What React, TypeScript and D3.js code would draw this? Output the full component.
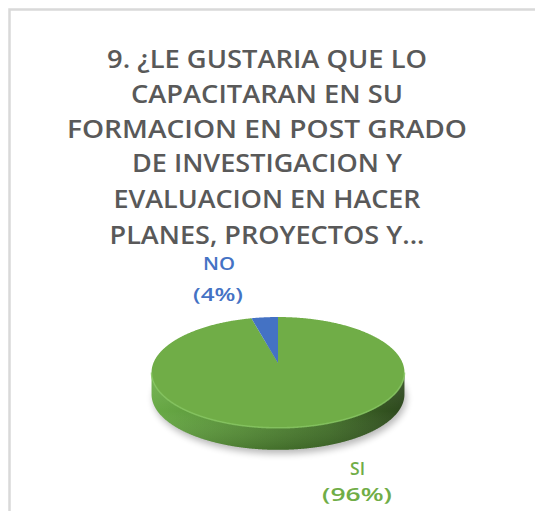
import React from "react";
import * as d3 from "d3";

const titleLines = [
  "9. ¿LE GUSTARIA QUE LO",
  "CAPACITARAN EN SU",
  "FORMACION EN POST GRADO",
  "DE INVESTIGACION Y",
  "EVALUACION EN HACER",
  "PLANES, PROYECTOS Y...",
];
const titleWidths = [320, 272, 400, 270, 307, 315];
const categories = ["SI", "NO"];
const values = [96, 4];
const percentLabels = ["(96%)", "(4%)"];
const colors = ["#70AD47", "#4472C4"];

export default function App() {
  const W = 535,
    H = 511;
  const cx = 278,
    cy = 363,
    rw = 124.6,
    rh = 53.8,
    k = 0.17,
    depth = 22;
  const proj = (a: number, r = 1): [number, number] => {
    const s = 1 + k * r * Math.cos(a);
    return [cx + (rw * r * Math.sin(a)) / s, cy - (rh * r * Math.cos(a)) / s];
  };
  const arcs = d3.pie<number>().sort(null)(values);
  const line = d3.line();
  const slicePath = (a0: number, a1: number) => {
    const n = Math.max(2, Math.ceil((a1 - a0) / (Math.PI / 360)));
    const pts: [number, number][] = [[cx, cy]];
    for (let i = 0; i <= n; i++) pts.push(proj(a0 + ((a1 - a0) * i) / n));
    return line(pts) + "Z";
  };
  const N = 1440;
  const outline: [number, number][] = [];
  let iMin = 0,
    iMax = 0;
  for (let i = 0; i < N; i++) {
    const p = proj((2 * Math.PI * i) / N);
    outline.push(p);
    if (p[0] < outline[iMin][0]) iMin = i;
    if (p[0] > outline[iMax][0]) iMax = i;
  }
  const front = outline.slice(iMax, iMin + 1);
  const sidePts: [number, number][] = [
    ...front,
    ...front
      .slice()
      .reverse()
      .map(([x, y]) => [x, y + depth] as [number, number]),
  ];
  const shadowPts = outline.map(([x, y]) => [x + 2, y + depth + 4] as [number, number]);

  const titleX = 267;
  const titleBase = [68, 102.5, 137.5, 172, 208, 244];

  return (
    <svg
      width={W}
      height={H}
      style={{ position: "absolute", left: 0, top: 0, background: "#fff" }}
    >
      <defs>
        <linearGradient id="side" x1="0" x2="1" y1="0" y2="0">
          <stop offset="0" stopColor="#68aa45" />
          <stop offset="0.35" stopColor="#578f38" />
          <stop offset="0.7" stopColor="#43702a" />
          <stop offset="1" stopColor="#2c471c" />
        </linearGradient>
        <linearGradient id="sideV" x1="0" x2="0" y1="0" y2="1">
          <stop offset="0" stopColor="#ffffff" stopOpacity="0.12" />
          <stop offset="0.5" stopColor="#ffffff" stopOpacity="0" />
          <stop offset="1" stopColor="#000000" stopOpacity="0.15" />
        </linearGradient>
        <filter id="blur" x="-20%" y="-20%" width="140%" height="140%">
          <feGaussianBlur stdDeviation="3.5" />
        </filter>
      </defs>
      <rect x={0} y={0} width={W} height={H} fill="#fff" />
      <path d={`M9.5,${H} V9.5 H${W}`} fill="none" stroke="#d9d9d9" strokeWidth={2.5} />

      {titleLines.map((t, i) => (
        <text
          key={i}
          x={titleX}
          y={titleBase[i]}
          textAnchor="middle"
          fontFamily="'Open Sans', sans-serif"
          fontWeight={600}
          fontSize={25}
          fill="#595959"
          textLength={titleWidths[i]}
          lengthAdjust="spacingAndGlyphs"
        >
          {t}
        </text>
      ))}

      <path d={line(shadowPts) + "Z"} fill="#000" opacity={0.28} filter="url(#blur)" />
      <path d={line(sidePts) + "Z"} fill="url(#side)" />
      <path d={line(sidePts) + "Z"} fill="url(#sideV)" />
      {arcs.map((a, i) => (
        <path key={categories[i]} d={slicePath(a.startAngle, a.endAngle)} fill={colors[i]} />
      ))}
      <path d={line(front)} fill="none" stroke="#86c560" strokeWidth={1.6} opacity={0.8} />

      <g fontFamily="'Open Sans', sans-serif" fontWeight={600} fontSize={18.5} textAnchor="middle">
        <text x={219} y={270} fill={colors[1]} textLength={32} lengthAdjust="spacingAndGlyphs">
          {categories[1]}
        </text>
        <text x={218} y={301} fill={colors[1]} textLength={50} lengthAdjust="spacingAndGlyphs">
          {percentLabels[1]}
        </text>
        <text x={357.5} y={475} fill={colors[0]} textLength={15} lengthAdjust="spacingAndGlyphs">
          {categories[0]}
        </text>
        <text x={357} y={501} fill={colors[0]} textLength={70} lengthAdjust="spacingAndGlyphs">
          {percentLabels[0]}
        </text>
      </g>
    </svg>
  );
}
